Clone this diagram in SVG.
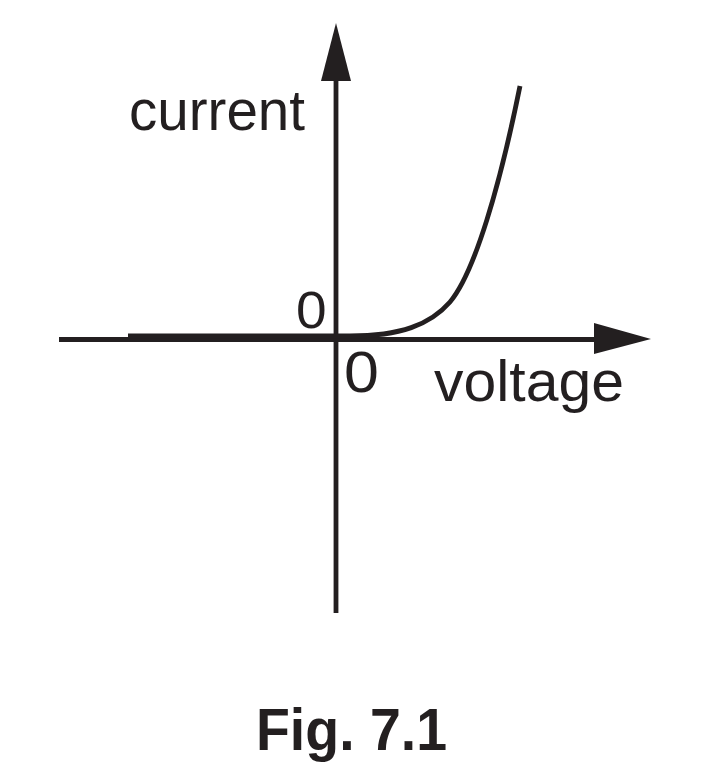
<svg xmlns="http://www.w3.org/2000/svg" width="725" height="771" viewBox="0 0 725 771">
<style>
.ln{stroke:#231f20;stroke-width:4.8;fill:none}
.ah{fill:#231f20}
.t{font-family:"Liberation Sans",Arial,sans-serif;fill:#231f20}
</style>
<rect width="725" height="771" fill="#fff"/>
<g id="connectors">
<line class="ln" x1="336" y1="80" x2="336" y2="613"/>
<polygon class="ah" points="336,23 321,81 351,81"/>
<line class="ln" x1="59" y1="339.5" x2="596" y2="339.5"/>
<polygon class="ah" points="651,339 594,323 594,354"/>
</g>
<g id="curve">
<path class="ln" d="M128,336 L350,336 C400,336 430,325 450,302 C475,272 500,185 520,86"/>
</g>
<g id="labels">
<text class="t" x="129" y="130" font-size="57" textLength="176" lengthAdjust="spacingAndGlyphs">current</text>
<text class="t" x="434" y="401" font-size="57" textLength="190" lengthAdjust="spacingAndGlyphs">voltage</text>
<text class="t" transform="translate(296,328) scale(1.08,1)" font-size="51">0</text>
<text class="t" transform="translate(344,392) scale(1.1,1)" font-size="57">0</text>
<text class="t" transform="translate(256,750) scale(0.94,1)" font-size="59" font-weight="bold">Fig. 7.1</text>
</g>
</svg>
